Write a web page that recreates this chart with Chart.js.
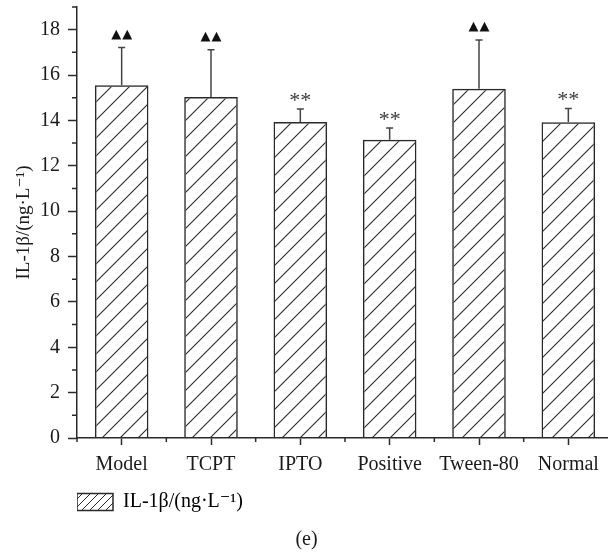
<!DOCTYPE html>
<html>
<head>
<meta charset="utf-8">
<title>IL-1β</title>
<script src="https://cdn.jsdelivr.net/npm/chart.js@4.4.1/dist/chart.umd.min.js"></script>
<style>
  html, body { margin: 0; padding: 0; background: #fff; overflow: hidden; }
  #wrap { width: 608px; height: 556px; overflow: hidden; }
</style>
</head>
<body>
<div id="wrap"><canvas id="chart" width="616" height="556"></canvas></div>
<script>
const categories = ['Model', 'TCPT', 'IPTO', 'Positive', 'Tween-80', 'Normal'];
const means = [15.55, 15.03, 13.93, 13.15, 15.40, 13.92];
const sdValues = [1.67, 2.08, 0.57, 0.52, 2.15, 0.61];
const marks = ['▲▲', '▲▲', '**', '**', '▲▲', '**'];
const seriesName = 'IL-1β/(ng·L⁻¹)';
const yTitle = 'IL-1β/(ng·L⁻¹)';
const caption = '(e)';

const serif = '"Liberation Serif", "DejaVu Serif", serif';
const ink = '#2a2a2a';
const canvas = document.getElementById('chart');
const ctx = canvas.getContext('2d');

// diagonal "/" hatch
function hatch(size, lw) {
  const tile = document.createElement('canvas');
  tile.width = size;
  tile.height = size;
  const g = tile.getContext('2d');
  g.strokeStyle = ink;
  g.lineWidth = lw;
  g.beginPath();
  g.moveTo(0, size); g.lineTo(size, 0);
  g.moveTo(-size / 2, size / 2); g.lineTo(size / 2, -size / 2);
  g.moveTo(size / 2, size * 1.5); g.lineTo(size * 1.5, size / 2);
  g.stroke();
  return ctx.createPattern(tile, 'repeat');
}
const barHatch = hatch(18, 1.1);
const legendHatch = hatch(8, 1);

Chart.defaults.font.family = serif;
Chart.defaults.color = '#1a1a1a';

const extras = {
  id: 'extras',
  afterDatasetsDraw(chart) {
    const { ctx, scales: { y } } = chart;
    const bars = chart.getDatasetMeta(0).data;
    ctx.save();
    bars.forEach((bar, i) => {
      const top = y.getPixelForValue(means[i] + sdValues[i]);
      ctx.strokeStyle = '#444';
      ctx.lineWidth = 1.5;
      ctx.beginPath();
      ctx.moveTo(bar.x, bar.y);
      ctx.lineTo(bar.x, top);
      ctx.moveTo(bar.x - 3.5, top);
      ctx.lineTo(bar.x + 3.5, top);
      ctx.stroke();
      ctx.textAlign = 'center';
      if (marks[i] === '▲▲') {
        ctx.fillStyle = '#111';
        ctx.font = '13px "DejaVu Sans"';
        ctx.textBaseline = 'middle';
        ctx.letterSpacing = '1px';
        ctx.fillText(marks[i], bar.x + 0.5, top - 13);
        ctx.letterSpacing = '0px';
      } else {
        ctx.fillStyle = '#3a3a3a';
        ctx.font = '22px ' + serif;
        ctx.textBaseline = 'alphabetic';
        ctx.fillText(marks[i], bar.x, top - 2);
      }
    });
    ctx.restore();
  },
  afterDraw(chart) {
    // minor ticks
    const { ctx, scales: { x, y }, chartArea } = chart;
    ctx.save();
    ctx.strokeStyle = ink;
    ctx.lineWidth = 1.5;
    ctx.beginPath();
    for (let v = 1; v <= 19; v += 2) {
      const py = y.getPixelForValue(v);
      ctx.moveTo(chartArea.left - 5, py);
      ctx.lineTo(chartArea.left, py);
    }
    const half = (x.getPixelForValue(1) - x.getPixelForValue(0)) / 2;
    for (let i = 0; i < categories.length; i++) {
      const px = x.getPixelForValue(i) - half;
      ctx.moveTo(px, chartArea.bottom);
      ctx.lineTo(px, chartArea.bottom + 4);
    }
    ctx.stroke();
    ctx.restore();
  }
};

new Chart(canvas, {
  type: 'bar',
  data: {
    labels: categories,
    datasets: [{
      label: seriesName,
      data: means,
      backgroundColor: barHatch,
      borderColor: ink,
      borderWidth: 1.5,
      categoryPercentage: 1,
      barPercentage: 0.6
    }]
  },
  options: {
    responsive: false,
    devicePixelRatio: 1,
    animation: false,
    layout: { padding: { top: 7, left: 0, right: 3, bottom: 0 } },
    scales: {
      x: {
        offset: true,
        grid: { offset: false, drawOnChartArea: false, tickLength: 7, tickWidth: 1.5, tickColor: ink },
        border: { color: ink, width: 1.5 },
        ticks: { padding: 8, maxRotation: 0, autoSkip: false, font: { size: 20 } },
        afterFit(s) { s.height = 54; s.paddingLeft = 0; s.paddingRight = 0; }
      },
      y: {
        min: 0,
        max: 19,
        grid: {
          drawOnChartArea: false,
          tickLength: 9,
          tickWidth: 1.5,
          tickColor: c => (c.tick && c.tick.value % 2 === 0) ? ink : 'rgba(0,0,0,0)'
        },
        border: { color: ink, width: 1.5 },
        ticks: {
          stepSize: 1,
          padding: 8,
          font: { size: 20 },
          callback: v => (v % 2 === 0 ? v : '')
        },
        title: {
          display: true,
          text: yTitle,
          font: { size: 19 },
          padding: { top: 13, bottom: 0 }
        },
        afterFit(s) { s.width = 77; s.paddingTop = 0; s.paddingBottom = 0; }
      }
    },
    plugins: {
      legend: {
        position: 'bottom',
        align: 'start',
        fullSize: false,
        labels: {
          boxWidth: 36,
          boxHeight: 17,
          padding: 0,
          font: { size: 20 },
          generateLabels: () => [{
            text: seriesName,
            fillStyle: legendHatch,
            strokeStyle: ink,
            lineWidth: 1.5,
            hidden: false,
            datasetIndex: 0
          }]
        }
      },
      title: {
        display: true,
        text: caption,
        position: 'bottom',
        font: { size: 20, weight: 'normal' },
        padding: { top: 6, bottom: 4 }
      },
      tooltip: { enabled: false }
    }
  },
  plugins: [extras]
});
</script>
</body>
</html>
